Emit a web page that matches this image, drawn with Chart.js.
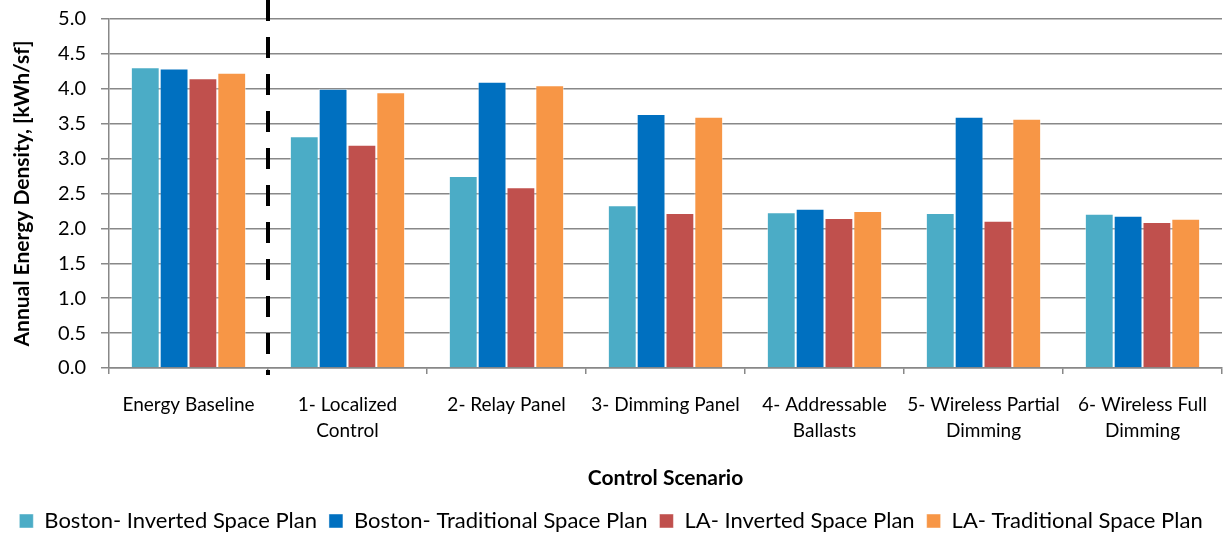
<!DOCTYPE html>
<html>
<head>
<meta charset="utf-8">
<script src="https://cdn.jsdelivr.net/npm/chart.js@4.4.1/dist/chart.umd.min.js"></script>
<style>
  html, body { margin: 0; padding: 0; background: #fff; }
  #wrap { width: 1231px; height: 538px; position: relative; }
</style>
</head>
<body>
<div id="wrap"><canvas id="grafico"></canvas></div>
<script>
const cenarios = [
    'Energy Baseline',
    ['1- Localized', 'Control'],
    '2- Relay Panel',
    '3- Dimming Panel',
    ['4- Addressable', 'Ballasts'],
    ['5- Wireless Partial', 'Dimming'],
    ['6- Wireless Full', 'Dimming']
];
const bostonInvertido = [4.31, 3.32, 2.75, 2.33, 2.23, 2.22, 2.21];
const bostonTradicional = [4.29, 4.00, 4.10, 3.64, 2.28, 3.60, 2.18];
const laInvertido = [4.15, 3.20, 2.59, 2.22, 2.15, 2.11, 2.09];
const laTradicional = [4.23, 3.95, 4.05, 3.60, 2.25, 3.57, 2.14];
const nomesSeries = [
    'Boston- Inverted Space Plan',
    'Boston- Traditional Space Plan',
    'LA- Inverted Space Plan',
    'LA- Traditional Space Plan'
];
const cores = ['#4BACC6', '#0070C0', '#C0504D', '#F79646'];
const ticksY = [0, 0.5, 1, 1.5, 2, 2.5, 3, 3.5, 4, 4.5, 5];

const fonte = 'Lato, "Open Sans", sans-serif';
const cinza = '#888888';

// dashed line between the baseline and the control scenarios
const linhaTracejada = {
    id: 'linhaTracejada',
    afterDatasetsDraw(chart) {
        const { ctx, chartArea, scales } = chart;
        const x = (scales.x.getPixelForValue(0) + scales.x.getPixelForValue(1)) / 2;
        ctx.save();
        ctx.strokeStyle = '#000';
        ctx.lineWidth = 4;
        ctx.setLineDash([21, 16]);
        ctx.beginPath();
        ctx.moveTo(x, 0);
        ctx.lineTo(x, chartArea.bottom + 7);
        ctx.stroke();
        ctx.restore();
    }
};

const series = [bostonInvertido, bostonTradicional, laInvertido, laTradicional];

new Chart(document.getElementById('grafico'), {
    type: 'bar',
    data: {
        labels: cenarios,
        datasets: series.map((valores, i) => ({
            label: nomesSeries[i],
            data: valores,
            backgroundColor: cores[i],
            borderColor: 'rgba(255,255,255,0.45)',
            borderWidth: 1,
            barPercentage: 1,
            categoryPercentage: 0.725
        }))
    },
    options: {
        responsive: true,
        maintainAspectRatio: false,
        animation: false,
        // legend sits low in the original, so let it hang past the bottom padding
        layout: { padding: { top: 0, right: 9, left: 0, bottom: -4 } },
        plugins: {
            tooltip: { enabled: false },
            legend: {
                position: 'bottom',
                labels: {
                    boxWidth: 14,
                    boxHeight: 14,
                    padding: 12,
                    color: '#000',
                    font: { family: fonte, size: 22, lineHeight: 1 }
                }
            }
        },
        scales: {
            x: {
                afterFit: s => { s.height = 130; },
                grid: {
                    offset: true,
                    drawOnChartArea: false,
                    drawTicks: true,
                    tickLength: 6,
                    color: cinza,
                    lineWidth: 1.5
                },
                border: { color: cinza, width: 1.5 },
                ticks: {
                    color: '#000',
                    padding: 18,
                    maxRotation: 0,
                    autoSkip: false,
                    font: { family: fonte, size: 19, lineHeight: 1.37 }
                },
                title: {
                    display: true,
                    text: 'Control Scenario',
                    color: '#000',
                    padding: { top: 0, bottom: 7 },
                    font: { family: fonte, size: 21, weight: 'bold' }
                }
            },
            y: {
                min: 0,
                max: 5,
                afterFit: s => {
                    s.width = 109;
                    s.paddingTop = 19;
                    s.paddingBottom = 0;
                },
                afterBuildTicks: s => { s.ticks = ticksY.map(v => ({ value: v })); },
                grid: {
                    color: cinza,
                    lineWidth: 1.5,
                    tickLength: 8
                },
                border: { color: cinza, width: 1.5 },
                ticks: {
                    color: '#000',
                    padding: 15,
                    font: { family: fonte, size: 20 },
                    callback: v => Number(v).toFixed(1)
                },
                title: {
                    display: true,
                    text: 'Annual Energy Density, [kWh/sf]',
                    color: '#000',
                    padding: { top: 10, bottom: 0 },
                    font: { family: fonte, size: 21, weight: 'bold' }
                }
            }
        }
    },
    plugins: [linhaTracejada]
});
</script>
</body>
</html>
